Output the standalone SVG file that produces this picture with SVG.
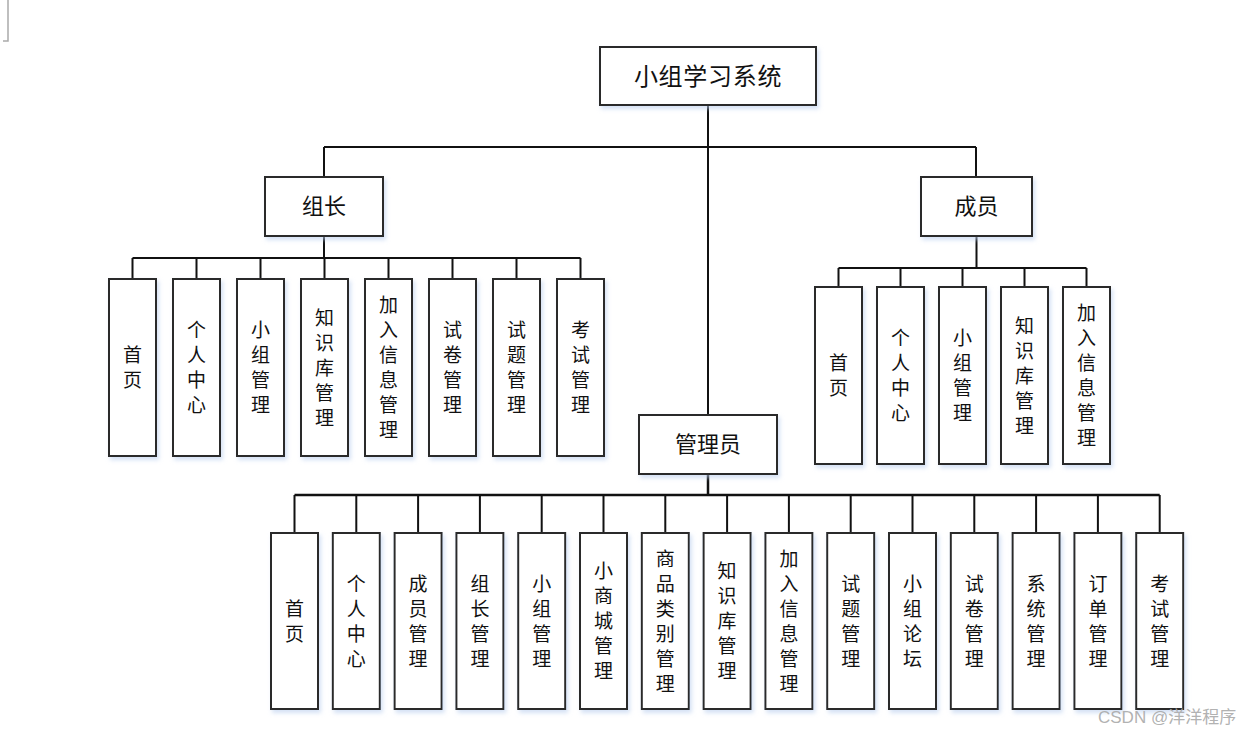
<svg xmlns="http://www.w3.org/2000/svg" width="1250" height="734" viewBox="0 0 1250 734">
<style>
.box{fill:#fff;stroke:#2b2b2b;stroke-width:2;filter:url(#sh)}
.t{font-family:"Noto Sans CJK SC","Noto Sans CJK JP",sans-serif;fill:#111;text-anchor:middle;dominant-baseline:central;transform:translateY(-2px)}
.v{font-size:19px}
.ln{stroke:#111;stroke-width:2;fill:none}
</style>
<defs>
<filter id="sh" x="-20%" y="-20%" width="140%" height="140%">
<feDropShadow dx="2" dy="3" stdDeviation="2" flood-color="#b8cdee" flood-opacity="0.6"/>
</filter>
</defs>
<rect width="1250" height="734" fill="#fff"/>
<path d="M8 0V41H3" stroke="#aaa" stroke-width="1.5" fill="none"/>
<g id="connectors" class="ln">
<path d="M708 106V415"/>
<path d="M324 147H976M324 147V177M976 147V177"/>
<path d="M324 236V258M132.5 258H580.5"/>
<path d="M132.5 258V279M196.5 258V279M260.5 258V279M324.5 258V279M388.5 258V279M452.5 258V279M516.5 258V279M580.5 258V279"/>
<path d="M976.5 236V268M838.5 268H1086.5"/>
<path d="M838.5 268V287M900.5 268V287M962.5 268V287M1024.5 268V287M1086.5 268V287"/>
<path d="M708 474V495M294.5 495H1159.7" stroke-width="2.5"/>
<path d="M294.5 495V533M356.3 495V533M418.1 495V533M479.9 495V533M541.7 495V533M603.5 495V533M665.3 495V533M727.1 495V533M788.9 495V533M850.7 495V533M912.5 495V533M974.3 495V533M1036.1 495V533M1097.9 495V533M1159.7 495V533"/>
</g>
<g id="root"><rect class="box" x="600" y="47" width="216" height="58"/><text class="t" x="708" y="76" font-size="24" letter-spacing="0.7">小组学习系统</text></g>
<g id="leader"><rect class="box" x="265" y="177" width="118" height="59"/><text class="t" x="324" y="206" font-size="22">组长</text></g>
<g id="member"><rect class="box" x="921" y="177" width="111" height="59"/><text class="t" x="976.5" y="206" font-size="22">成员</text></g>
<g id="admin"><rect class="box" x="639" y="415" width="138" height="59"/><text class="t" x="708" y="444" font-size="22">管理员</text></g>

<g id="l1"><rect class="box" x="109" y="279" width="47" height="177"/><text class="t v"><tspan x="132.5" y="355">首</tspan><tspan x="132.5" y="380">页</tspan></text></g>
<g id="l2"><rect class="box" x="173" y="279" width="47" height="177"/><text class="t v"><tspan x="196.5" y="330">个</tspan><tspan x="196.5" y="355">人</tspan><tspan x="196.5" y="380">中</tspan><tspan x="196.5" y="405">心</tspan></text></g>
<g id="l3"><rect class="box" x="237" y="279" width="47" height="177"/><text class="t v"><tspan x="260.5" y="330">小</tspan><tspan x="260.5" y="355">组</tspan><tspan x="260.5" y="380">管</tspan><tspan x="260.5" y="405">理</tspan></text></g>
<g id="l4"><rect class="box" x="301" y="279" width="47" height="177"/><text class="t v"><tspan x="324.5" y="317.5">知</tspan><tspan x="324.5" y="342.5">识</tspan><tspan x="324.5" y="367.5">库</tspan><tspan x="324.5" y="392.5">管</tspan><tspan x="324.5" y="417.5">理</tspan></text></g>
<g id="l5"><rect class="box" x="365" y="279" width="47" height="177"/><text class="t v"><tspan x="388.5" y="305">加</tspan><tspan x="388.5" y="330">入</tspan><tspan x="388.5" y="355">信</tspan><tspan x="388.5" y="380">息</tspan><tspan x="388.5" y="405">管</tspan><tspan x="388.5" y="430">理</tspan></text></g>
<g id="l6"><rect class="box" x="429" y="279" width="47" height="177"/><text class="t v"><tspan x="452.5" y="330">试</tspan><tspan x="452.5" y="355">卷</tspan><tspan x="452.5" y="380">管</tspan><tspan x="452.5" y="405">理</tspan></text></g>
<g id="l7"><rect class="box" x="493" y="279" width="47" height="177"/><text class="t v"><tspan x="516.5" y="330">试</tspan><tspan x="516.5" y="355">题</tspan><tspan x="516.5" y="380">管</tspan><tspan x="516.5" y="405">理</tspan></text></g>
<g id="l8"><rect class="box" x="557" y="279" width="47" height="177"/><text class="t v"><tspan x="580.5" y="330">考</tspan><tspan x="580.5" y="355">试</tspan><tspan x="580.5" y="380">管</tspan><tspan x="580.5" y="405">理</tspan></text></g>

<g id="m1"><rect class="box" x="815" y="287" width="47" height="177"/><text class="t v"><tspan x="838.5" y="363">首</tspan><tspan x="838.5" y="388">页</tspan></text></g>
<g id="m2"><rect class="box" x="877" y="287" width="47" height="177"/><text class="t v"><tspan x="900.5" y="338">个</tspan><tspan x="900.5" y="363">人</tspan><tspan x="900.5" y="388">中</tspan><tspan x="900.5" y="413">心</tspan></text></g>
<g id="m3"><rect class="box" x="939" y="287" width="47" height="177"/><text class="t v"><tspan x="962.5" y="338">小</tspan><tspan x="962.5" y="363">组</tspan><tspan x="962.5" y="388">管</tspan><tspan x="962.5" y="413">理</tspan></text></g>
<g id="m4"><rect class="box" x="1001" y="287" width="47" height="177"/><text class="t v"><tspan x="1024.5" y="325.5">知</tspan><tspan x="1024.5" y="350.5">识</tspan><tspan x="1024.5" y="375.5">库</tspan><tspan x="1024.5" y="400.5">管</tspan><tspan x="1024.5" y="425.5">理</tspan></text></g>
<g id="m5"><rect class="box" x="1063" y="287" width="47" height="177"/><text class="t v"><tspan x="1086.5" y="313">加</tspan><tspan x="1086.5" y="338">入</tspan><tspan x="1086.5" y="363">信</tspan><tspan x="1086.5" y="388">息</tspan><tspan x="1086.5" y="413">管</tspan><tspan x="1086.5" y="438">理</tspan></text></g>

<g id="a1"><rect class="box" x="271" y="533" width="47" height="176"/><text class="t v"><tspan x="294.5" y="608.5">首</tspan><tspan x="294.5" y="633.5">页</tspan></text></g>
<g id="a2"><rect class="box" x="332.8" y="533" width="47" height="176"/><text class="t v"><tspan x="356.3" y="583.5">个</tspan><tspan x="356.3" y="608.5">人</tspan><tspan x="356.3" y="633.5">中</tspan><tspan x="356.3" y="658.5">心</tspan></text></g>
<g id="a3"><rect class="box" x="394.6" y="533" width="47" height="176"/><text class="t v"><tspan x="418.1" y="583.5">成</tspan><tspan x="418.1" y="608.5">员</tspan><tspan x="418.1" y="633.5">管</tspan><tspan x="418.1" y="658.5">理</tspan></text></g>
<g id="a4"><rect class="box" x="456.4" y="533" width="47" height="176"/><text class="t v"><tspan x="479.9" y="583.5">组</tspan><tspan x="479.9" y="608.5">长</tspan><tspan x="479.9" y="633.5">管</tspan><tspan x="479.9" y="658.5">理</tspan></text></g>
<g id="a5"><rect class="box" x="518.2" y="533" width="47" height="176"/><text class="t v"><tspan x="541.7" y="583.5">小</tspan><tspan x="541.7" y="608.5">组</tspan><tspan x="541.7" y="633.5">管</tspan><tspan x="541.7" y="658.5">理</tspan></text></g>
<g id="a6"><rect class="box" x="580" y="533" width="47" height="176"/><text class="t v"><tspan x="603.5" y="571">小</tspan><tspan x="603.5" y="596">商</tspan><tspan x="603.5" y="621">城</tspan><tspan x="603.5" y="646">管</tspan><tspan x="603.5" y="671">理</tspan></text></g>
<g id="a7"><rect class="box" x="641.8" y="533" width="47" height="176"/><text class="t v"><tspan x="665.3" y="558.5">商</tspan><tspan x="665.3" y="583.5">品</tspan><tspan x="665.3" y="608.5">类</tspan><tspan x="665.3" y="633.5">别</tspan><tspan x="665.3" y="658.5">管</tspan><tspan x="665.3" y="683.5">理</tspan></text></g>
<g id="a8"><rect class="box" x="703.6" y="533" width="47" height="176"/><text class="t v"><tspan x="727.1" y="571">知</tspan><tspan x="727.1" y="596">识</tspan><tspan x="727.1" y="621">库</tspan><tspan x="727.1" y="646">管</tspan><tspan x="727.1" y="671">理</tspan></text></g>
<g id="a9"><rect class="box" x="765.4" y="533" width="47" height="176"/><text class="t v"><tspan x="788.9" y="558.5">加</tspan><tspan x="788.9" y="583.5">入</tspan><tspan x="788.9" y="608.5">信</tspan><tspan x="788.9" y="633.5">息</tspan><tspan x="788.9" y="658.5">管</tspan><tspan x="788.9" y="683.5">理</tspan></text></g>
<g id="a10"><rect class="box" x="827.2" y="533" width="47" height="176"/><text class="t v"><tspan x="850.7" y="583.5">试</tspan><tspan x="850.7" y="608.5">题</tspan><tspan x="850.7" y="633.5">管</tspan><tspan x="850.7" y="658.5">理</tspan></text></g>
<g id="a11"><rect class="box" x="889" y="533" width="47" height="176"/><text class="t v"><tspan x="912.5" y="583.5">小</tspan><tspan x="912.5" y="608.5">组</tspan><tspan x="912.5" y="633.5">论</tspan><tspan x="912.5" y="658.5">坛</tspan></text></g>
<g id="a12"><rect class="box" x="950.8" y="533" width="47" height="176"/><text class="t v"><tspan x="974.3" y="583.5">试</tspan><tspan x="974.3" y="608.5">卷</tspan><tspan x="974.3" y="633.5">管</tspan><tspan x="974.3" y="658.5">理</tspan></text></g>
<g id="a13"><rect class="box" x="1012.6" y="533" width="47" height="176"/><text class="t v"><tspan x="1036.1" y="583.5">系</tspan><tspan x="1036.1" y="608.5">统</tspan><tspan x="1036.1" y="633.5">管</tspan><tspan x="1036.1" y="658.5">理</tspan></text></g>
<g id="a14"><rect class="box" x="1074.4" y="533" width="47" height="176"/><text class="t v"><tspan x="1097.9" y="583.5">订</tspan><tspan x="1097.9" y="608.5">单</tspan><tspan x="1097.9" y="633.5">管</tspan><tspan x="1097.9" y="658.5">理</tspan></text></g>
<g id="a15"><rect class="box" x="1136.2" y="533" width="47" height="176"/><text class="t v"><tspan x="1159.7" y="583.5">考</tspan><tspan x="1159.7" y="608.5">试</tspan><tspan x="1159.7" y="633.5">管</tspan><tspan x="1159.7" y="658.5">理</tspan></text></g>

<text x="1098" y="723" font-family="'Liberation Sans','Noto Sans CJK SC',sans-serif" font-size="17" fill="#a8a8a8" fill-opacity="0.9">CSDN @洋洋程序</text>
</svg>
